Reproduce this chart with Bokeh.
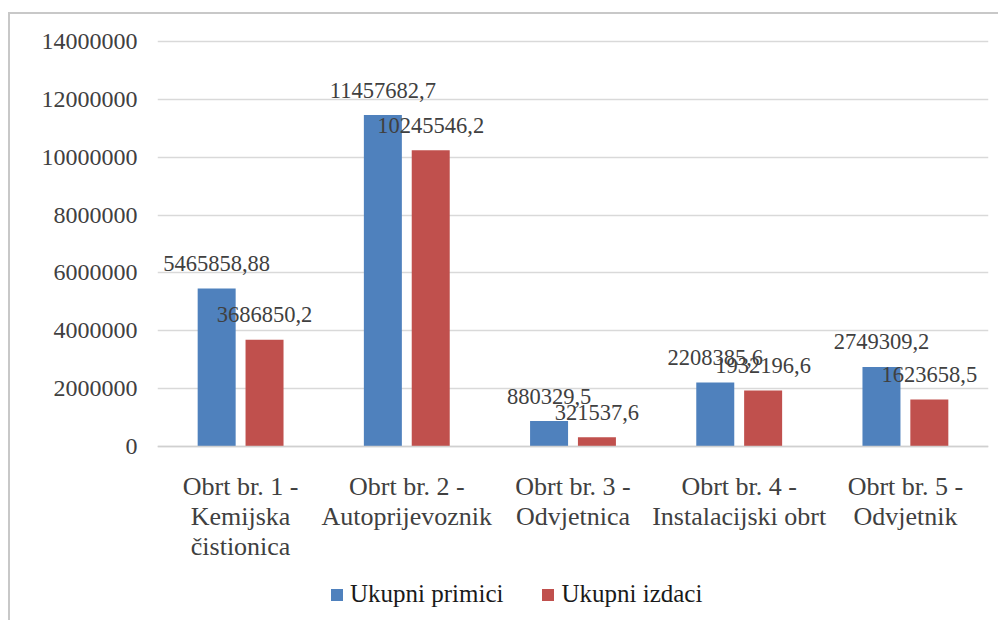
from bokeh.plotting import figure
from bokeh.models import (ColumnDataSource, FactorRange, Range1d, FixedTicker, NumeralTickFormatter,
                          LabelSet, Legend, LegendItem)
from bokeh.core.properties import value
from bokeh.transform import dodge
from bokeh.embed import file_html
from bokeh.resources import INLINE

categories = ["Obrt br. 1 -\nKemijska\nčistionica",
              "Obrt br. 2 -\nAutoprijevoznik",
              "Obrt br. 3 -\nOdvjetnica",
              "Obrt br. 4 -\nInstalacijski obrt",
              "Obrt br. 5 -\nOdvjetnik"]
primici = [5465858.88, 11457682.7, 880329.5, 2208385.6, 2749309.2]
izdaci = [3686850.2, 10245546.2, 321537.6, 1932196.6, 1623658.5]
series_names = ["Ukupni primici", "Ukupni izdaci"]
y_ticks = [0, 2000000, 4000000, 6000000, 8000000, 10000000, 12000000, 14000000]

BLUE = "#4F81BD"
RED = "#C0504D"
FONT = "Liberation Serif"
TXT = "#404040"

src = ColumnDataSource(dict(
    cat=categories,
    primici=primici,
    izdaci=izdaci,
    lab_p=[str(v).replace(".", ",") for v in primici],
    lab_i=[str(v).replace(".", ",") for v in izdaci],
))

# the frame extends below zero so that the category labels and the legend live inside it
p = figure(x_range=FactorRange(factors=categories, range_padding=0),
           y_range=Range1d(-5842000, 14070000),
           frame_width=831, frame_height=576,
           min_border_left=147, min_border_right=10, min_border_top=25, min_border_bottom=5,
           output_backend="svg", toolbar_location=None)
p.styles = {"margin-left": "8px", "margin-top": "12px",
            "border-left": "2px solid #c8c8c8", "border-top": "2px solid #c8c8c8"}
p.outline_line_color = None
p.background_fill_color = "white"
p.border_fill_color = "white"

off = 0.144
bw = 0.2286
r1 = p.vbar(x=dodge("cat", -off, range=p.x_range), top="primici", width=bw, source=src,
            fill_color=BLUE, line_color=None)
r2 = p.vbar(x=dodge("cat", off, range=p.x_range), top="izdaci", width=bw, source=src,
            fill_color=RED, line_color=None)

for col, lab, o in (("primici", "lab_p", -off), ("izdaci", "lab_i", off)):
    ls = LabelSet(x=dodge("cat", o, range=p.x_range), y=col, text=lab, source=src,
                  text_align="center", text_baseline="middle", y_offset=25,
                  text_font=value(FONT), text_font_size=value("22.5px"), text_color=TXT)
    p.add_layout(ls)

# axes
p.yaxis.ticker = FixedTicker(ticks=y_ticks)
p.yaxis.formatter = NumeralTickFormatter(format="0")
p.yaxis.axis_line_color = None
p.yaxis.major_tick_line_color = None
p.yaxis.minor_tick_line_color = None
p.yaxis.major_tick_out = 0
p.yaxis.major_label_standoff = 20
p.yaxis.major_label_text_font = FONT
p.yaxis.major_label_text_font_size = "24px"
p.yaxis.major_label_text_color = TXT

p.xaxis.fixed_location = 0
p.xaxis.axis_line_color = "#d0d0d0"
p.xaxis.axis_line_width = 1.5
p.xaxis.major_tick_line_color = None
p.xaxis.minor_tick_line_color = None
p.xaxis.major_tick_out = 0
p.xaxis.major_label_standoff = 25
p.xaxis.major_label_text_font = FONT
p.xaxis.major_label_text_font_size = "26px"
p.xaxis.major_label_text_color = TXT
p.xaxis.major_label_text_line_height = 1.05

p.xgrid.grid_line_color = None
p.ygrid.grid_line_color = "#d9d9d9"
p.ygrid.grid_line_width = 1.5

legend = Legend(items=[LegendItem(label=series_names[0], renderers=[r1]),
                       LegendItem(label=series_names[1], renderers=[r2])],
                orientation="horizontal", location=(172, 7),
                glyph_width=15, glyph_height=15, label_standoff=6, spacing=37,
                padding=0, margin=0, border_line_color=None, background_fill_alpha=0,
                label_text_font=FONT, label_text_font_size="25px", label_text_color="#1a1a1a")
p.add_layout(legend, "center")

open("out.html", "w").write(file_html(p, INLINE))
